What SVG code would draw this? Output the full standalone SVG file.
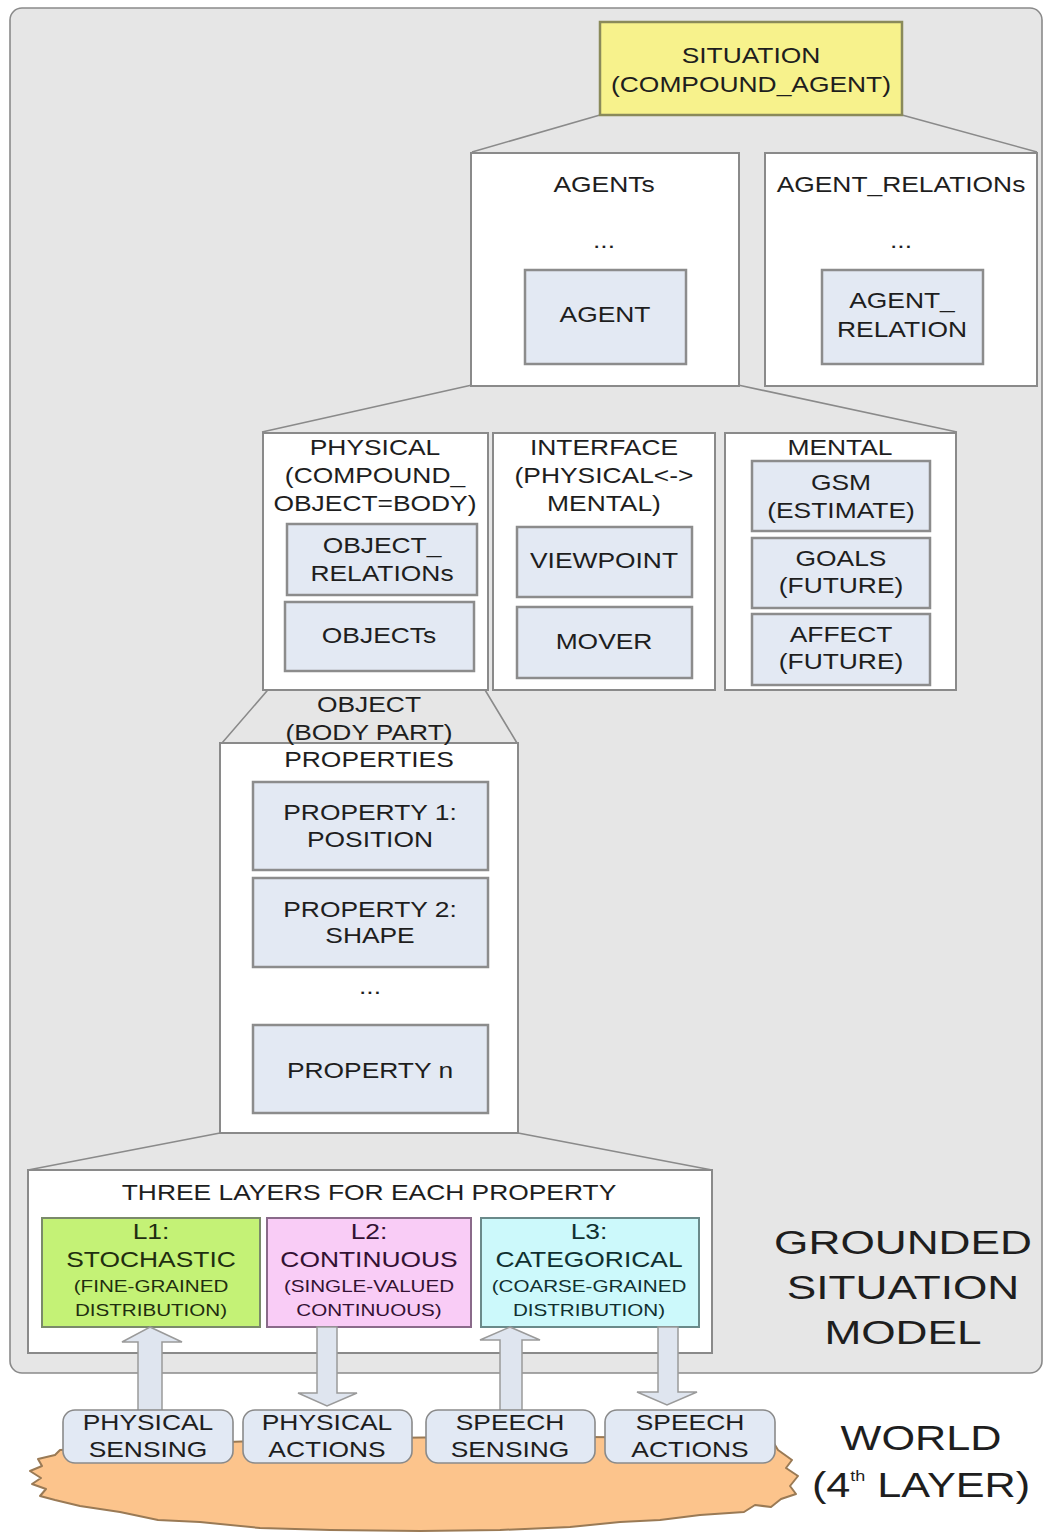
<svg xmlns="http://www.w3.org/2000/svg" width="1045" height="1533" viewBox="0 0 1045 1533">
<style>
text{font-family:"Liberation Sans",Arial,sans-serif;fill:#1e1e1e;text-anchor:middle}
.m{font-size:22px}
.s{font-size:16.5px}
.big{font-size:34px}
.cont{fill:#ffffff;stroke:#8a8a8a;stroke-width:2}
.in{fill:#e3e9f3;stroke:#8c8c8c;stroke-width:2.5}
.ln{stroke:#8a8a8a;stroke-width:1.6;fill:none}
.arr{fill:#dfe5ef;stroke:#9a9a9a;stroke-width:1.5}
.io{fill:#e2e9f4;stroke:#8a8a8a;stroke-width:1.6}
</style>
<rect x="0" y="0" width="1045" height="1533" fill="#ffffff"/>
<g id="gsm-bg">
<rect x="10" y="8" width="1032" height="1365" rx="12" fill="#e6e6e6" stroke="#8a8a8a" stroke-width="1.6"/>
<text class="big" transform="translate(903,1254) scale(1.3,1)"><tspan x="0" y="0">GROUNDED</tspan><tspan x="0" y="45">SITUATION</tspan><tspan x="0" y="90">MODEL</tspan></text>
</g>
<g id="world">
<path d="M60 1450 Q400 1430 772 1440 L778 1450 L792 1460 L786 1468 L798 1476 L790 1486 L796 1494 L781 1499 L771 1507 L755 1505 L744 1512 L700 1515 L660 1520 L620 1522 L570 1527 L500 1530 L420 1531 L330 1530 L260 1528 L200 1522 L158 1520 L120 1512 L80 1506 L55 1500 L40 1496 L46 1489 L32 1484 L41 1478 L30 1471 L42 1466 L38 1459 L55 1455 Z" fill="#fcc48c" stroke="#9a7a55" stroke-width="2" stroke-linejoin="round"/>
<text class="big" style="font-size:36px" transform="translate(921,1450) scale(1.2,1)"><tspan x="0" y="0">WORLD</tspan><tspan x="0" y="47">(4<tspan style="font-size:15px" dy="-16">th</tspan><tspan dy="16"> LAYER)</tspan></tspan></text>
</g>
<g id="connectors">
<path class="ln" d="M600 115 L472 152 M902 115 L1037 152"/>
<path class="ln" d="M472 385 L262 432 M738 385 L957 432"/>
<path class="ln" d="M285 670 L222 743 M473 670 L517 743"/>
<path class="ln" d="M220 1133 L28 1170 M518 1133 L712 1170"/>
</g>
<g id="situation">
<rect x="600" y="22" width="302" height="93" fill="#f7f28c" stroke="#8a8a5a" stroke-width="2.5"/>
<text class="m" transform="translate(751,63) scale(1.2,1)"><tspan x="0" y="0">SITUATION</tspan><tspan x="0" y="29">(COMPOUND_AGENT)</tspan></text>
</g>
<g id="agents">
<rect class="cont" x="471" y="153" width="268" height="233"/>
<text class="m" transform="translate(604,192) scale(1.2,1)"><tspan x="0" y="0">AGENTs</tspan><tspan x="0" y="56">...</tspan></text>
</g>
<g id="agent">
<rect class="in" x="525" y="270" width="161" height="94"/>
<text class="m" transform="translate(605,322) scale(1.2,1)">AGENT</text>
</g>
<g id="agent-relations">
<rect class="cont" x="765" y="153" width="272" height="233"/>
<text class="m" transform="translate(901,192) scale(1.2,1)"><tspan x="0" y="0">AGENT_RELATIONs</tspan><tspan x="0" y="56">...</tspan></text>
</g>
<g id="agent-relation">
<rect class="in" x="822" y="270" width="161" height="94"/>
<text class="m" transform="translate(902,308) scale(1.2,1)"><tspan x="0" y="0">AGENT_</tspan><tspan x="0" y="29">RELATION</tspan></text>
</g>
<g id="physical">
<rect class="cont" x="263" y="433" width="225" height="257"/>
<text class="m" transform="translate(375,455) scale(1.2,1)"><tspan x="0" y="0">PHYSICAL</tspan><tspan x="0" y="28">(COMPOUND_</tspan><tspan x="0" y="56">OBJECT=BODY)</tspan></text>
</g>
<g id="object-relations">
<rect class="in" x="287" y="524" width="190" height="71"/>
<text class="m" transform="translate(382,553) scale(1.2,1)"><tspan x="0" y="0">OBJECT_</tspan><tspan x="0" y="28">RELATIONs</tspan></text>
</g>
<g id="objects">
<rect class="in" x="285" y="602" width="189" height="69"/>
<text class="m" transform="translate(379,643) scale(1.2,1)">OBJECTs</text>
</g>
<g id="interface">
<rect class="cont" x="493" y="433" width="222" height="257"/>
<text class="m" transform="translate(604,455) scale(1.2,1)"><tspan x="0" y="0">INTERFACE</tspan><tspan x="0" y="28">(PHYSICAL&lt;-&gt;</tspan><tspan x="0" y="56">MENTAL)</tspan></text>
</g>
<g id="viewpoint">
<rect class="in" x="517" y="527" width="175" height="70"/>
<text class="m" transform="translate(604,568) scale(1.2,1)">VIEWPOINT</text>
</g>
<g id="mover">
<rect class="in" x="517" y="607" width="175" height="71"/>
<text class="m" transform="translate(604,649) scale(1.2,1)">MOVER</text>
</g>
<g id="mental">
<rect class="cont" x="725" y="433" width="231" height="257"/>
<text class="m" transform="translate(840,455) scale(1.2,1)">MENTAL</text>
</g>
<g id="gsm">
<rect class="in" x="752" y="461" width="178" height="70"/>
<text class="m" transform="translate(841,490) scale(1.2,1)"><tspan x="0" y="0">GSM</tspan><tspan x="0" y="28">(ESTIMATE)</tspan></text>
</g>
<g id="goals">
<rect class="in" x="752" y="538" width="178" height="70"/>
<text class="m" transform="translate(841,566) scale(1.2,1)"><tspan x="0" y="0">GOALS</tspan><tspan x="0" y="27">(FUTURE)</tspan></text>
</g>
<g id="affect">
<rect class="in" x="752" y="614" width="178" height="71"/>
<text class="m" transform="translate(841,642) scale(1.2,1)"><tspan x="0" y="0">AFFECT</tspan><tspan x="0" y="27">(FUTURE)</tspan></text>
</g>
<g id="object-properties">
<rect class="cont" x="220" y="743" width="298" height="390"/>
<text class="m" transform="translate(369,712) scale(1.2,1)"><tspan x="0" y="0">OBJECT</tspan><tspan x="0" y="28">(BODY PART)</tspan><tspan x="0" y="55">PROPERTIES</tspan></text>
<text class="m" transform="translate(370,994) scale(1.2,1)">...</text>
</g>
<g id="property1">
<rect class="in" x="253" y="782" width="235" height="88"/>
<text class="m" transform="translate(370,820) scale(1.2,1)"><tspan x="0" y="0">PROPERTY 1:</tspan><tspan x="0" y="27">POSITION</tspan></text>
</g>
<g id="property2">
<rect class="in" x="253" y="878" width="235" height="89"/>
<text class="m" transform="translate(370,917) scale(1.2,1)"><tspan x="0" y="0">PROPERTY 2:</tspan><tspan x="0" y="26">SHAPE</tspan></text>
</g>
<g id="propertyn">
<rect class="in" x="253" y="1025" width="235" height="88"/>
<text class="m" transform="translate(370,1078) scale(1.2,1)">PROPERTY n</text>
</g>
<g id="three-layers">
<rect class="cont" x="28" y="1170" width="684" height="183"/>
<text class="m" transform="translate(369,1200) scale(1.2,1)">THREE LAYERS FOR EACH PROPERTY</text>
</g>
<g id="l1">
<rect x="42" y="1218" width="218" height="109" fill="#c4f276" stroke="#7a8a6a" stroke-width="2"/>
<text class="m" style="fill:#1f2e10" transform="translate(151,1239) scale(1.2,1)"><tspan x="0" y="0">L1:</tspan><tspan x="0" y="28">STOCHASTIC</tspan></text>
<text class="s" style="fill:#1f2e10" transform="translate(151,1292) scale(1.25,1)"><tspan x="0" y="0">(FINE-GRAINED</tspan><tspan x="0" y="24">DISTRIBUTION)</tspan></text>
</g>
<g id="l2">
<rect x="267" y="1218" width="204" height="109" fill="#f9ccf6" stroke="#8a6a8a" stroke-width="2"/>
<text class="m" style="fill:#331133" transform="translate(369,1239) scale(1.2,1)"><tspan x="0" y="0">L2:</tspan><tspan x="0" y="28">CONTINUOUS</tspan></text>
<text class="s" style="fill:#331133" transform="translate(369,1292) scale(1.25,1)"><tspan x="0" y="0">(SINGLE-VALUED</tspan><tspan x="0" y="24">CONTINUOUS)</tspan></text>
</g>
<g id="l3">
<rect x="481" y="1218" width="218" height="109" fill="#ccf9fb" stroke="#6a8a8a" stroke-width="2"/>
<text class="m" style="fill:#103030" transform="translate(589,1239) scale(1.2,1)"><tspan x="0" y="0">L3:</tspan><tspan x="0" y="28">CATEGORICAL</tspan></text>
<text class="s" style="fill:#103030" transform="translate(589,1292) scale(1.25,1)"><tspan x="0" y="0">(COARSE-GRAINED</tspan><tspan x="0" y="24">DISTRIBUTION)</tspan></text>
</g>
<g id="arrows">
<polygon class="arr" points="150,1327 182,1342 162,1342 162,1411 138,1411 138,1342 122,1342"/>
<polygon class="arr" points="317,1327 337,1327 337,1393 357,1393 327,1406 298,1393 317,1393"/>
<polygon class="arr" points="510,1327 540,1340 522,1340 522,1411 500,1411 500,1340 480,1340"/>
<polygon class="arr" points="658,1327 678,1327 678,1392 697,1392 667,1405 637,1392 658,1392"/>
</g>
<g id="physical-sensing">
<rect class="io" x="63" y="1410" width="170" height="53" rx="12"/>
<text class="m" transform="translate(148,1430) scale(1.2,1)"><tspan x="0" y="0">PHYSICAL</tspan><tspan x="0" y="27">SENSING</tspan></text>
</g>
<g id="physical-actions">
<rect class="io" x="243" y="1410" width="169" height="53" rx="12"/>
<text class="m" transform="translate(327,1430) scale(1.2,1)"><tspan x="0" y="0">PHYSICAL</tspan><tspan x="0" y="27">ACTIONS</tspan></text>
</g>
<g id="speech-sensing">
<rect class="io" x="426" y="1410" width="169" height="53" rx="12"/>
<text class="m" transform="translate(510,1430) scale(1.2,1)"><tspan x="0" y="0">SPEECH</tspan><tspan x="0" y="27">SENSING</tspan></text>
</g>
<g id="speech-actions">
<rect class="io" x="605" y="1410" width="170" height="53" rx="12"/>
<text class="m" transform="translate(690,1430) scale(1.2,1)"><tspan x="0" y="0">SPEECH</tspan><tspan x="0" y="27">ACTIONS</tspan></text>
</g>
</svg>
